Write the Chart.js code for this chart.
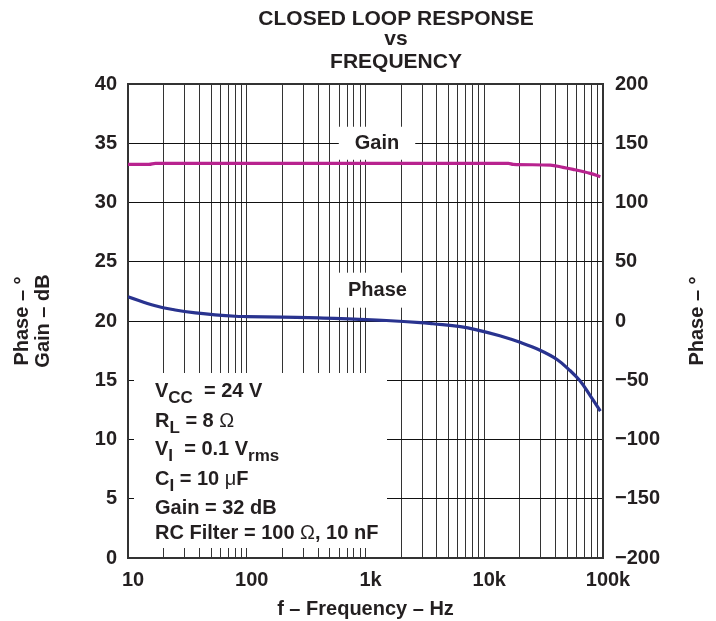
<!DOCTYPE html>
<html>
<head>
<meta charset="utf-8">
<script src="https://cdn.jsdelivr.net/npm/chart.js@4"></script>
<style>
  body { margin: 0; background: #fff; }
  canvas { display: block; }
</style>
</head>
<body>
<canvas id="chart" width="716" height="621"></canvas>
<script>
// Gain curve (dB)
const gainFreq = [10, 15, 17, 16000, 17500, 36000, 46000, 56000, 78000, 95000];
const gainDb   = [33.22, 33.22, 33.3, 33.3, 33.22, 33.16, 32.97, 32.8, 32.46, 32.18];

// Phase curve (degrees)
const phaseFreq = [10, 17, 25, 37, 54, 80, 100, 200, 400, 800, 1500, 2900, 3700, 6300, 9200, 13500, 20000, 29500, 41000, 53000, 64000, 78000, 95000];
const phaseDeg  = [20.5, 12.9, 9.3, 6.8, 5.2, 4.0, 3.75, 3.2, 2.7, 1.5, 0.4, -1.3, -2.3, -4.7, -8.1, -12.5, -18, -24.7, -32.5, -42, -50.5, -63, -76];

// Axis ticks
const xTickValues = [10, 100, 1000, 10000, 100000];
const xTickLabels = ['10', '100', '1k', '10k', '100k'];
const gainTicks = [0, 5, 10, 15, 20, 25, 30, 35, 40];
const phaseTicks = [-200, -150, -100, -50, 0, 50, 100, 150, 200];
const phaseTickLabels = ['\u2212200', '\u2212150', '\u2212100', '\u221250', '0', '50', '100', '150', '200'];

// Text
const titleLines = ['CLOSED LOOP RESPONSE', 'vs', 'FREQUENCY'];
const conditionLines = [
    [['V', 'b'], ['CC', 'sub'], ['  = 24 V', 'b']],
    [['R', 'b'], ['L', 'sub'], [' = 8 ', 'b'], ['\u03A9', 'n']],
    [['V', 'b'], ['I', 'sub'], ['  = 0.1 V', 'b'], ['rms', 'sub']],
    [['C', 'b'], ['I', 'sub'], [' = 10 ', 'b'], ['\u03BC', 'n'], ['F', 'b']],
    [['Gain = 32 dB', 'b']],
    [['RC Filter = 100 ', 'b'], ['\u03A9', 'n'], [', 10 nF', 'b']]
];

const FAMILY = "'Liberation Sans', Arial, Helvetica, sans-serif";
const INK = '#231f20';

// gridlines at 1..9 of every decade
const xGrid = [];
for (let i = 0; i < xTickValues.length - 1; i++) {
    for (let m = 1; m <= 9; m++) xGrid.push(m * xTickValues[i]);
}
xGrid.push(xTickValues[xTickValues.length - 1]);

Chart.defaults.font.family = FAMILY;
Chart.defaults.font.weight = 'bold';
Chart.defaults.font.size = 20;
Chart.defaults.color = INK;

function drawRuns(ctx, runs, x, y) {
    for (const [text, kind] of runs) {
        const size = kind === 'sub' ? 17 : 20;
        const weight = kind === 'n' ? 'normal' : 'bold';
        ctx.font = weight + ' ' + size + 'px ' + FAMILY;
        ctx.fillText(text, x, y + (kind === 'sub' ? 6 : 0));
        x += ctx.measureText(text).width;
    }
}

function labelWithBox(ctx, text, cx, cy, padX, h) {
    ctx.font = 'bold 20px ' + FAMILY;
    const w = ctx.measureText(text).width + padX * 2;
    ctx.fillStyle = '#fff';
    ctx.fillRect(cx - w / 2, cy - h / 2, w, h);
    ctx.fillStyle = INK;
    ctx.textAlign = 'center';
    ctx.textBaseline = 'middle';
    ctx.fillText(text, cx, cy);
}

const overlay = {
    id: 'overlay',
    beforeDatasetsDraw(chart) {
        const ctx = chart.ctx;
        const area = chart.chartArea;
        const xs = chart.scales.x, ys = chart.scales.y;
        ctx.save();

        // curve labels
        labelWithBox(ctx, 'Gain', xs.getPixelForValue(1250), ys.getPixelForValue(35), 16, 33);
        labelWithBox(ctx, 'Phase', xs.getPixelForValue(1260), ys.getPixelForValue(22.6), 15, 35);

        // test conditions
        ctx.fillStyle = '#fff';
        ctx.fillRect(area.left + 6, area.bottom - 185, 253, 175);
        ctx.fillStyle = INK;
        ctx.textAlign = 'left';
        ctx.textBaseline = 'alphabetic';
        const baselines = [161.5, 131, 103, 73, 44, 19];
        conditionLines.forEach((runs, i) => drawRuns(ctx, runs, area.left + 27, area.bottom - baselines[i]));
        ctx.restore();
    },
    afterDatasetsDraw(chart) {
        // top edge of the frame
        const a = chart.chartArea;
        const ctx = chart.ctx;
        ctx.save();
        ctx.strokeStyle = '#333';
        ctx.lineWidth = 2;
        ctx.beginPath();
        ctx.moveTo(a.left - 1, a.top);
        ctx.lineTo(a.right + 1, a.top);
        ctx.stroke();
        ctx.restore();
    },
    afterDraw(chart) {
        const ctx = chart.ctx;
        const area = chart.chartArea;
        ctx.save();
        ctx.fillStyle = INK;
        ctx.font = 'bold 21px ' + FAMILY;
        ctx.textAlign = 'center';
        ctx.textBaseline = 'alphabetic';
        const base = [25, 45, 68];
        titleLines.forEach((t, i) => ctx.fillText(t, 396, base[i]));

        // right axis title, reads bottom to top
        ctx.font = 'bold 20px ' + FAMILY;
        ctx.textBaseline = 'middle';
        ctx.translate(697, (area.top + area.bottom) / 2);
        ctx.rotate(-Math.PI / 2);
        ctx.fillText('Phase \u2013 \u00B0', 0, 0);
        ctx.restore();
    }
};

const ctx = document.getElementById('chart').getContext('2d');
const chart = new Chart(ctx, {
    type: 'line',
    data: {
        datasets: [{
            label: 'Gain',
            data: gainFreq.map((f, i) => ({ x: f, y: gainDb[i] })),
            yAxisID: 'y',
            borderColor: '#b8238f',
            borderWidth: 3.2,
            pointRadius: 0,
            cubicInterpolationMode: 'monotone'
        }, {
            label: 'Phase',
            data: phaseFreq.map((f, i) => ({ x: f, y: phaseDeg[i] })),
            yAxisID: 'y2',
            borderColor: '#29338f',
            borderWidth: 3.2,
            pointRadius: 0,
            tension: 0.4
        }]
    },
    options: {
        responsive: false,
        animation: false,
        layout: { padding: { top: 84, left: 0, right: 0, bottom: 0 } },
        plugins: {
            legend: { display: false },
            tooltip: { enabled: false }
        },
        scales: {
            x: {
                type: 'logarithmic',
                min: 10,
                max: 100000,
                afterBuildTicks: s => { s.ticks = xGrid.map(v => ({ value: v })); },
                afterFit: s => { s.height = 63; },
                grid: { color: '#333', lineWidth: 1, drawTicks: false },
                border: { display: true, color: '#333', width: 2 },
                ticks: {
                    autoSkip: false,
                    maxRotation: 0,
                    minRotation: 0,
                    padding: 10,
                    labelOffset: 5,
                    callback: v => {
                        const i = xTickValues.indexOf(v);
                        return i >= 0 ? xTickLabels[i] : '';
                    }
                },
                title: {
                    display: true,
                    text: 'f \u2013 Frequency \u2013 Hz',
                    font: { size: 20, weight: 'bold', lineHeight: 1.05 },
                    padding: { top: 0, bottom: 1.5 }
                }
            },
            y: {
                position: 'left',
                min: 0,
                max: 40,
                afterBuildTicks: s => { s.ticks = gainTicks.map(v => ({ value: v })); },
                afterFit: s => { s.width = 128; },
                grid: { color: '#111', lineWidth: 1, drawTicks: false },
                border: { display: true, color: '#333', width: 2 },
                ticks: { padding: 11 },
                title: {
                    display: true,
                    text: ['Phase \u2013 \u00B0', 'Gain \u2013 dB'],
                    font: { size: 20, weight: 'bold', lineHeight: 1.05 },
                    padding: { top: 12, bottom: 0 }
                }
            },
            y2: {
                position: 'right',
                min: -200,
                max: 200,
                afterBuildTicks: s => { s.ticks = phaseTicks.map(v => ({ value: v })); },
                afterFit: s => { s.width = 113; },
                grid: { display: false, drawTicks: false },
                border: { display: true, color: '#333', width: 2 },
                ticks: {
                    padding: 12,
                    callback: v => phaseTickLabels[phaseTicks.indexOf(v)]
                }
            }
        }
    },
    plugins: [overlay]
});
</script>
</body>
</html>
